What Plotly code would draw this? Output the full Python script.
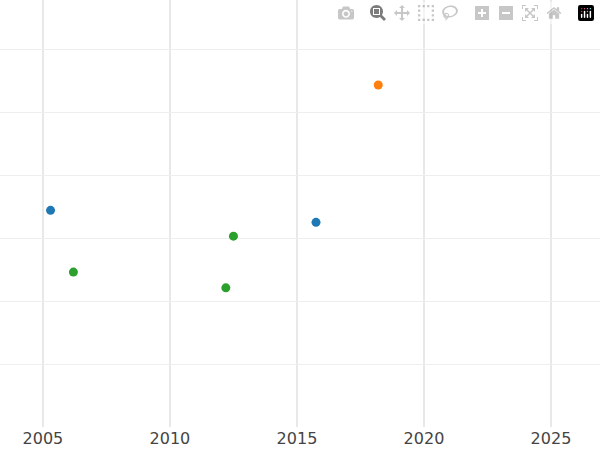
import plotly.graph_objects as go

blue_x = [2005.3, 2015.75]
blue_y = [3.44, 3.25]
orange_x = [2018.2]
orange_y = [5.43]
green_x = [2006.2, 2012.5, 2012.2]
green_y = [2.46, 3.03, 2.21]

fig = go.Figure()
for xs, ys, c in [(blue_x, blue_y, "#1f77b4"), (orange_x, orange_y, "#ff7f0e"), (green_x, green_y, "#2ca02c")]:
    fig.add_trace(go.Scatter(x=xs, y=ys, mode="markers", marker=dict(color=c, size=9), showlegend=False))

fig.update_layout(
    width=600, height=450, margin=dict(l=0, r=0, t=0, b=23),
    plot_bgcolor="white", paper_bgcolor="white",
    font=dict(family="DejaVu Sans", size=16, color="#444"),
)
fig.update_xaxes(range=[2003.31, 2026.93], tickvals=[2005, 2010, 2015, 2020, 2025],
                 showgrid=True, gridcolor="#e8e8e8", gridwidth=2, zeroline=False)
fig.update_yaxes(range=[0, 6.78], dtick=1, showticklabels=False,
                 showgrid=True, gridcolor="#eeeeee", gridwidth=1, zeroline=False)
fig.write_html("out.html", post_script="document.body.style.margin='0';document.body.style.overflow='hidden';")
